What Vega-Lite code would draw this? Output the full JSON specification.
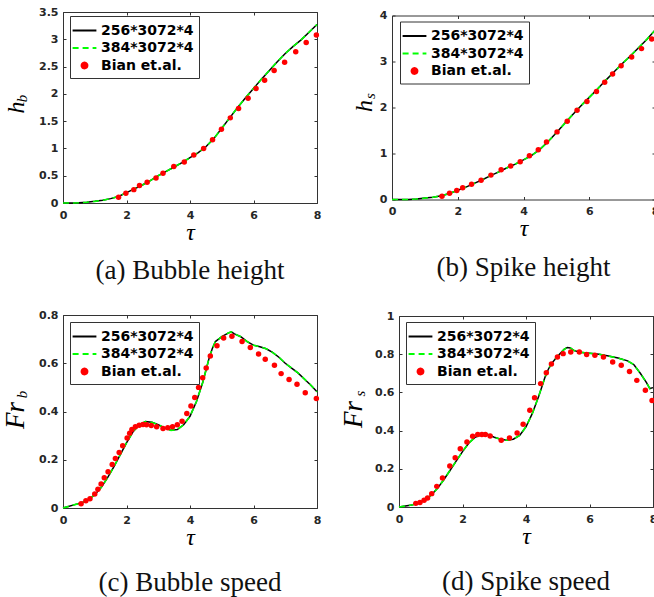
{
  "$schema": "https://vega.github.io/schema/vega-lite/v6.json",
  "padding": {"left": 0, "top": 5, "right": 0, "bottom": 0},
  "background": "#ffffff",
  "spacing": 23,
  "resolve": {"scale": {"color": "independent"}, "legend": {"color": "independent"}},
  "datasets": {
    "a_line": [
      {"t":0,"k":0,"g":0},{"t":0.25,"k":0,"g":0},{"t":0.5,"k":0.005,"g":0.005},{"t":0.75,"k":0.015,"g":0.015},{"t":1,"k":0.03,"g":0.03},{"t":1.25,"k":0.05,"g":0.05},{"t":1.5,"k":0.08,"g":0.08},{"t":1.75,"k":0.12,"g":0.12},{"t":2,"k":0.19,"g":0.19},{"t":2.25,"k":0.26,"g":0.26},{"t":2.5,"k":0.33,"g":0.33},{"t":2.75,"k":0.41,"g":0.41},{"t":3,"k":0.5,"g":0.5},{"t":3.25,"k":0.58,"g":0.58},{"t":3.5,"k":0.66,"g":0.66},{"t":3.75,"k":0.74,"g":0.74},{"t":4,"k":0.83,"g":0.83},{"t":4.25,"k":0.92,"g":0.92},{"t":4.5,"k":1.03,"g":1.03},{"t":4.75,"k":1.18,"g":1.18},{"t":5,"k":1.37,"g":1.37},{"t":5.25,"k":1.56,"g":1.56},{"t":5.5,"k":1.75,"g":1.75},{"t":5.75,"k":1.93,"g":1.93},{"t":6,"k":2.1,"g":2.1},{"t":6.25,"k":2.27,"g":2.27},{"t":6.5,"k":2.43,"g":2.43},{"t":6.75,"k":2.59,"g":2.59},{"t":7,"k":2.74,"g":2.74},{"t":7.25,"k":2.87,"g":2.87},{"t":7.5,"k":2.99,"g":2.99},{"t":7.75,"k":3.13,"g":3.13},{"t":8,"k":3.27,"g":3.27}
    ],
    "a_dot": [
      {"t":1.75,"v":0.104},{"t":1.98,"v":0.18},{"t":2.23,"v":0.245},{"t":2.41,"v":0.32},{"t":2.65,"v":0.38},{"t":2.93,"v":0.46},{"t":3.15,"v":0.545},{"t":3.49,"v":0.667},{"t":3.82,"v":0.753},{"t":4.12,"v":0.88},{"t":4.43,"v":1.0},{"t":4.71,"v":1.16},{"t":4.99,"v":1.35},{"t":5.27,"v":1.56},{"t":5.53,"v":1.73},{"t":5.83,"v":1.92},{"t":6.08,"v":2.1},{"t":6.35,"v":2.25},{"t":6.65,"v":2.43},{"t":6.98,"v":2.58},{"t":7.33,"v":2.77},{"t":7.66,"v":2.94},{"t":7.98,"v":3.08}
    ],
    "b_line": [
      {"t":0,"k":0,"g":0},{"t":0.5,"k":0,"g":0},{"t":0.75,"k":0.01,"g":0.01},{"t":1,"k":0.03,"g":0.03},{"t":1.25,"k":0.05,"g":0.05},{"t":1.5,"k":0.08,"g":0.08},{"t":1.75,"k":0.13,"g":0.13},{"t":2,"k":0.2,"g":0.2},{"t":2.25,"k":0.27,"g":0.27},{"t":2.5,"k":0.35,"g":0.35},{"t":2.75,"k":0.43,"g":0.43},{"t":3,"k":0.52,"g":0.52},{"t":3.25,"k":0.6,"g":0.6},{"t":3.5,"k":0.69,"g":0.69},{"t":3.75,"k":0.77,"g":0.77},{"t":4,"k":0.86,"g":0.86},{"t":4.25,"k":0.96,"g":0.96},{"t":4.5,"k":1.09,"g":1.09},{"t":4.75,"k":1.26,"g":1.26},{"t":5,"k":1.45,"g":1.45},{"t":5.25,"k":1.65,"g":1.65},{"t":5.5,"k":1.85,"g":1.85},{"t":5.75,"k":2.04,"g":2.04},{"t":6,"k":2.22,"g":2.22},{"t":6.25,"k":2.4,"g":2.4},{"t":6.5,"k":2.59,"g":2.59},{"t":6.75,"k":2.77,"g":2.77},{"t":7,"k":2.95,"g":2.95},{"t":7.25,"k":3.12,"g":3.12},{"t":7.5,"k":3.3,"g":3.3},{"t":7.75,"k":3.48,"g":3.48},{"t":8,"k":3.68,"g":3.68}
    ],
    "b_dot": [
      {"t":1.52,"v":0.072},{"t":1.75,"v":0.138},{"t":1.97,"v":0.196},{"t":2.15,"v":0.254},{"t":2.42,"v":0.333},{"t":2.71,"v":0.42},{"t":3.01,"v":0.53},{"t":3.32,"v":0.645},{"t":3.61,"v":0.73},{"t":3.9,"v":0.82},{"t":4.18,"v":0.95},{"t":4.45,"v":1.08},{"t":4.7,"v":1.25},{"t":5.02,"v":1.47},{"t":5.33,"v":1.7},{"t":5.63,"v":1.94},{"t":5.93,"v":2.13},{"t":6.22,"v":2.35},{"t":6.47,"v":2.55},{"t":6.71,"v":2.73},{"t":6.97,"v":2.91},{"t":7.29,"v":3.1},{"t":7.59,"v":3.28},{"t":7.9,"v":3.49}
    ],
    "c_line": [
      {"t":0,"k":0,"g":0},{"t":0.4,"k":0.015,"g":0.015},{"t":0.6,"k":0.022,"g":0.022},{"t":0.8,"k":0.035,"g":0.035},{"t":1,"k":0.055,"g":0.055},{"t":1.2,"k":0.085,"g":0.085},{"t":1.4,"k":0.125,"g":0.125},{"t":1.6,"k":0.17,"g":0.17},{"t":1.8,"k":0.22,"g":0.22},{"t":2,"k":0.27,"g":0.27},{"t":2.2,"k":0.315,"g":0.315},{"t":2.4,"k":0.345,"g":0.345},{"t":2.6,"k":0.358,"g":0.358},{"t":2.8,"k":0.355,"g":0.355},{"t":3,"k":0.345,"g":0.345},{"t":3.2,"k":0.332,"g":0.332},{"t":3.4,"k":0.322,"g":0.322},{"t":3.6,"k":0.325,"g":0.325},{"t":3.8,"k":0.345,"g":0.345},{"t":4,"k":0.38,"g":0.38},{"t":4.2,"k":0.44,"g":0.44},{"t":4.4,"k":0.52,"g":0.52},{"t":4.5,"k":0.57,"g":0.57},{"t":4.6,"k":0.62,"g":0.62},{"t":4.7,"k":0.66,"g":0.66},{"t":4.8,"k":0.69,"g":0.69},{"t":5,"k":0.71,"g":0.71},{"t":5.2,"k":0.725,"g":0.725},{"t":5.3,"k":0.73,"g":0.73},{"t":5.4,"k":0.722,"g":0.722},{"t":5.6,"k":0.71,"g":0.71},{"t":5.8,"k":0.69,"g":0.69},{"t":6,"k":0.675,"g":0.675},{"t":6.2,"k":0.668,"g":0.668},{"t":6.4,"k":0.66,"g":0.66},{"t":6.6,"k":0.645,"g":0.645},{"t":6.8,"k":0.625,"g":0.625},{"t":7,"k":0.6,"g":0.6},{"t":7.2,"k":0.58,"g":0.58},{"t":7.4,"k":0.56,"g":0.56},{"t":7.6,"k":0.535,"g":0.535},{"t":7.8,"k":0.51,"g":0.51},{"t":8,"k":0.482,"g":0.482}
    ],
    "c_dot": [
      {"t":0.57,"v":0.018},{"t":0.72,"v":0.03},{"t":0.85,"v":0.038},{"t":1.0,"v":0.058},{"t":1.1,"v":0.078},{"t":1.2,"v":0.1},{"t":1.3,"v":0.125},{"t":1.42,"v":0.15},{"t":1.55,"v":0.18},{"t":1.65,"v":0.205},{"t":1.77,"v":0.23},{"t":1.88,"v":0.258},{"t":2.02,"v":0.29},{"t":2.1,"v":0.31},{"t":2.17,"v":0.325},{"t":2.28,"v":0.337},{"t":2.4,"v":0.343},{"t":2.52,"v":0.346},{"t":2.63,"v":0.345},{"t":2.78,"v":0.342},{"t":2.95,"v":0.337},{"t":3.15,"v":0.33},{"t":3.3,"v":0.333},{"t":3.45,"v":0.337},{"t":3.6,"v":0.345},{"t":3.75,"v":0.36},{"t":3.9,"v":0.392},{"t":4.03,"v":0.423},{"t":4.15,"v":0.458},{"t":4.27,"v":0.5},{"t":4.4,"v":0.54},{"t":4.51,"v":0.58},{"t":4.64,"v":0.63},{"t":4.85,"v":0.673},{"t":5.06,"v":0.705},{"t":5.32,"v":0.712},{"t":5.64,"v":0.69},{"t":5.9,"v":0.665},{"t":6.16,"v":0.638},{"t":6.37,"v":0.617},{"t":6.66,"v":0.592},{"t":6.87,"v":0.557},{"t":7.12,"v":0.533},{"t":7.37,"v":0.513},{"t":7.63,"v":0.478},{"t":7.98,"v":0.454}
    ],
    "d_line": [
      {"t":0,"k":0,"g":0},{"t":0.4,"k":0.01,"g":0.01},{"t":0.6,"k":0.02,"g":0.02},{"t":0.8,"k":0.035,"g":0.035},{"t":1,"k":0.06,"g":0.06},{"t":1.2,"k":0.095,"g":0.095},{"t":1.4,"k":0.14,"g":0.14},{"t":1.6,"k":0.19,"g":0.19},{"t":1.8,"k":0.24,"g":0.24},{"t":2,"k":0.29,"g":0.29},{"t":2.2,"k":0.335,"g":0.335},{"t":2.4,"k":0.365,"g":0.365},{"t":2.6,"k":0.38,"g":0.38},{"t":2.7,"k":0.385,"g":0.385},{"t":2.8,"k":0.38,"g":0.38},{"t":3,"k":0.365,"g":0.365},{"t":3.2,"k":0.355,"g":0.355},{"t":3.4,"k":0.35,"g":0.35},{"t":3.6,"k":0.355,"g":0.355},{"t":3.8,"k":0.375,"g":0.375},{"t":4,"k":0.42,"g":0.42},{"t":4.2,"k":0.49,"g":0.49},{"t":4.4,"k":0.58,"g":0.58},{"t":4.5,"k":0.63,"g":0.63},{"t":4.6,"k":0.68,"g":0.68},{"t":4.7,"k":0.72,"g":0.72},{"t":4.8,"k":0.75,"g":0.75},{"t":5,"k":0.79,"g":0.79},{"t":5.2,"k":0.825,"g":0.825},{"t":5.3,"k":0.835,"g":0.835},{"t":5.4,"k":0.833,"g":0.833},{"t":5.5,"k":0.82,"g":0.82},{"t":5.7,"k":0.81,"g":0.81},{"t":6,"k":0.805,"g":0.805},{"t":6.3,"k":0.8,"g":0.8},{"t":6.6,"k":0.79,"g":0.79},{"t":6.9,"k":0.78,"g":0.78},{"t":7.2,"k":0.765,"g":0.765},{"t":7.4,"k":0.745,"g":0.745},{"t":7.6,"k":0.7,"g":0.7},{"t":7.8,"k":0.65,"g":0.65},{"t":7.9,"k":0.62,"g":0.62},{"t":8,"k":0.625,"g":0.625}
    ],
    "d_dot": [
      {"t":0.53,"v":0.019},{"t":0.66,"v":0.024},{"t":0.79,"v":0.035},{"t":0.9,"v":0.047},{"t":1.03,"v":0.07},{"t":1.19,"v":0.108},{"t":1.37,"v":0.152},{"t":1.6,"v":0.215},{"t":1.77,"v":0.258},{"t":1.93,"v":0.305},{"t":2.14,"v":0.34},{"t":2.32,"v":0.37},{"t":2.48,"v":0.379},{"t":2.61,"v":0.38},{"t":2.72,"v":0.379},{"t":2.87,"v":0.372},{"t":3.22,"v":0.35},{"t":3.48,"v":0.361},{"t":3.72,"v":0.387},{"t":3.91,"v":0.433},{"t":4.12,"v":0.506},{"t":4.27,"v":0.572},{"t":4.46,"v":0.646},{"t":4.64,"v":0.703},{"t":4.8,"v":0.749},{"t":4.99,"v":0.785},{"t":5.17,"v":0.803},{"t":5.41,"v":0.811},{"t":5.68,"v":0.811},{"t":5.91,"v":0.799},{"t":6.17,"v":0.794},{"t":6.44,"v":0.785},{"t":6.73,"v":0.759},{"t":7.0,"v":0.742},{"t":7.26,"v":0.71},{"t":7.49,"v":0.663},{"t":7.76,"v":0.611},{"t":7.97,"v":0.558}
    ]
  },
  "vconcat": [
    {
      "hconcat": [
        {
          "width": 254, "height": 191,
          "title": {"text": "(a) Bubble height"},
          "layer": [
            {"data": {"name": "a_line"}, "mark": {"type": "line", "strokeWidth": 1.5},
             "encoding": {
               "x": {"field": "t", "type": "quantitative", "scale": {"domain": [0, 8], "nice": false}, "axis": {"values": [0,2,4,6,8], "format": "~g", "ticks": false, "title": "τ", "titleY": 36, "titleBaseline": "alphabetic"}},
               "y": {"field": "k", "type": "quantitative", "scale": {"domain": [0, 3.5], "nice": false}, "axis": {"values": [0,0.5,1,1.5,2,2.5,3,3.5], "format": "~g", "ticks": false, "title": "h", "titleX": -40, "titleY": 95, "titleAngle": 270, "titleAlign": "center", "titleBaseline": "alphabetic"}},
               "color": {"datum": "256*3072*4", "type": "nominal", "scale": {"domain": ["256*3072*4","384*3072*4","Bian et.al."], "range": ["#000000","#00ff00","#ff0000"]},
                 "legend": {"title": null, "orient": "none", "legendX": 7, "legendY": 4, "symbolSize": 289, "labelOffset": 7, "padding": 5, "rowPadding": 0.5, "strokeColor": "#333333", "fillColor": "#ffffff", "labelFont": "DejaVu Sans", "labelFontWeight": "bold", "labelFontSize": 14, "labelColor": "#000000", "symbolStrokeWidth": 1.8,
                   "encode": {"symbols": {"update": {
                     "shape": {"signal": "datum.value === 'Bian et.al.' ? 'circle' : 'M-1.4,0H1.4'"},
                     "size": {"signal": "datum.value === 'Bian et.al.' ? 36 : 289"},
                     "strokeDash": {"signal": "datum.value === '384*3072*4' ? [6,4] : [1,0]"},
                     "fill": {"signal": "datum.value === 'Bian et.al.' ? '#ff0000' : 'transparent'"},
                     "stroke": {"signal": "datum.value === '256*3072*4' ? '#000000' : (datum.value === '384*3072*4' ? '#00ff00' : 'transparent')"},
                     "strokeWidth": {"value": 1.8},
                     "opacity": {"value": 1}}}}}}
             }},
            {"data": {"name": "a_line"}, "mark": {"type": "line", "strokeWidth": 1.6, "strokeDash": [6, 4]},
             "encoding": {
               "x": {"field": "t", "type": "quantitative", "scale": {"domain": [0, 8], "nice": false}, "axis": {"orient": "top", "values": [0,2,4,6,8], "labels": false, "tickSize": -3, "title": null}},
               "y": {"field": "g", "type": "quantitative", "scale": {"domain": [0, 3.5], "nice": false}, "axis": {"orient": "right", "values": [0,0.5,1,1.5,2,2.5,3,3.5], "labels": false, "tickSize": -3, "title": null}},
               "color": {"datum": "384*3072*4", "type": "nominal"}
             }},
            {"data": {"name": "a_dot"}, "mark": {"type": "point", "filled": true, "shape": "circle", "size": 30, "opacity": 1},
             "encoding": {
               "x": {"field": "t", "type": "quantitative", "scale": {"domain": [0, 8], "nice": false}, "axis": {"orient": "bottom", "values": [0,2,4,6,8], "labels": false, "tickSize": -3, "title": null}},
               "y": {"field": "v", "type": "quantitative", "scale": {"domain": [0, 3.5], "nice": false}, "axis": {"orient": "left", "values": [0,0.5,1,1.5,2,2.5,3,3.5], "labels": false, "tickSize": -3, "title": "b", "titleFontSize": 15, "titleX": -37, "titleY": 86, "titleAngle": 270, "titleAlign": "center", "titleBaseline": "alphabetic"}},
               "color": {"datum": "Bian et.al.", "type": "nominal"}
             }}
          ],
          "resolve": {"axis": {"x": "independent", "y": "independent"}}
        },
        {
          "width": 263, "height": 184,
          "title": {"text": "(b) Spike height"},
          "layer": [
            {"data": {"name": "b_line"}, "mark": {"type": "line", "strokeWidth": 1.5},
             "encoding": {
               "x": {"field": "t", "type": "quantitative", "scale": {"domain": [0, 8], "nice": false}, "axis": {"values": [0,2,4,6,8], "format": "~g", "ticks": false, "title": "τ", "titleY": 36, "titleBaseline": "alphabetic"}},
               "y": {"field": "k", "type": "quantitative", "scale": {"domain": [0, 4], "nice": false}, "axis": {"values": [0,1,2,3,4], "format": "~g", "ticks": false, "title": "h", "titleX": -21, "titleY": 90, "titleAngle": 270, "titleAlign": "center", "titleBaseline": "alphabetic"}},
               "color": {"datum": "256*3072*4", "type": "nominal", "scale": {"domain": ["256*3072*4","384*3072*4","Bian et.al."], "range": ["#000000","#00ff00","#ff0000"]},
                 "legend": {"title": null, "orient": "none", "legendX": 8, "legendY": 6, "symbolSize": 289, "labelOffset": 7, "padding": 5, "rowPadding": 0.5, "strokeColor": "#333333", "fillColor": "#ffffff", "labelFont": "DejaVu Sans", "labelFontWeight": "bold", "labelFontSize": 14, "labelColor": "#000000", "symbolStrokeWidth": 1.8,
                   "encode": {"symbols": {"update": {
                     "shape": {"signal": "datum.value === 'Bian et.al.' ? 'circle' : 'M-1.4,0H1.4'"},
                     "size": {"signal": "datum.value === 'Bian et.al.' ? 36 : 289"},
                     "strokeDash": {"signal": "datum.value === '384*3072*4' ? [6,4] : [1,0]"},
                     "fill": {"signal": "datum.value === 'Bian et.al.' ? '#ff0000' : 'transparent'"},
                     "stroke": {"signal": "datum.value === '256*3072*4' ? '#000000' : (datum.value === '384*3072*4' ? '#00ff00' : 'transparent')"},
                     "strokeWidth": {"value": 1.8},
                     "opacity": {"value": 1}}}}}}
             }},
            {"data": {"name": "b_line"}, "mark": {"type": "line", "strokeWidth": 1.6, "strokeDash": [6, 4]},
             "encoding": {
               "x": {"field": "t", "type": "quantitative", "scale": {"domain": [0, 8], "nice": false}, "axis": {"orient": "top", "values": [0,2,4,6,8], "labels": false, "tickSize": -3, "title": null}},
               "y": {"field": "g", "type": "quantitative", "scale": {"domain": [0, 4], "nice": false}, "axis": {"orient": "right", "values": [0,1,2,3,4], "labels": false, "tickSize": -3, "title": null}},
               "color": {"datum": "384*3072*4", "type": "nominal"}
             }},
            {"data": {"name": "b_dot"}, "mark": {"type": "point", "filled": true, "shape": "circle", "size": 30, "opacity": 1},
             "encoding": {
               "x": {"field": "t", "type": "quantitative", "scale": {"domain": [0, 8], "nice": false}, "axis": {"orient": "bottom", "values": [0,2,4,6,8], "labels": false, "tickSize": -3, "title": null}},
               "y": {"field": "v", "type": "quantitative", "scale": {"domain": [0, 4], "nice": false}, "axis": {"orient": "left", "values": [0,1,2,3,4], "labels": false, "tickSize": -3, "title": "s", "titleFontSize": 15, "titleX": -18, "titleY": 80, "titleAngle": 270, "titleAlign": "center", "titleBaseline": "alphabetic"}},
               "color": {"datum": "Bian et.al.", "type": "nominal"}
             }}
          ],
          "resolve": {"axis": {"x": "independent", "y": "independent"}}
        }
      ],
      "bounds": "flush",
      "spacing": 75,
      "center": true,
      "resolve": {"scale": {"color": "independent"}, "legend": {"color": "independent"}}
    },
    {
      "hconcat": [
        {
          "width": 254, "height": 193,
          "title": {"text": "(c) Bubble speed", "offset": 21},
          "layer": [
            {"data": {"name": "c_line"}, "mark": {"type": "line", "strokeWidth": 1.5},
             "encoding": {
               "x": {"field": "t", "type": "quantitative", "scale": {"domain": [0, 8], "nice": false}, "axis": {"values": [0,2,4,6,8], "format": "~g", "ticks": false, "title": "τ", "titleY": 36, "titleBaseline": "alphabetic"}},
               "y": {"field": "k", "type": "quantitative", "scale": {"domain": [0, 0.8], "nice": false}, "axis": {"values": [0,0.2,0.4,0.6,0.8], "format": "~g", "ticks": false, "title": "Fr", "titleFontSize": 27, "titleX": -40, "titleY": 100, "titleAngle": 270, "titleAlign": "center", "titleBaseline": "alphabetic"}},
               "color": {"datum": "256*3072*4", "type": "nominal", "scale": {"domain": ["256*3072*4","384*3072*4","Bian et.al."], "range": ["#000000","#00ff00","#ff0000"]},
                 "legend": {"title": null, "orient": "none", "legendX": 7, "legendY": 7, "symbolSize": 289, "labelOffset": 7, "padding": 5, "rowPadding": 0.5, "strokeColor": "#333333", "fillColor": "#ffffff", "labelFont": "DejaVu Sans", "labelFontWeight": "bold", "labelFontSize": 14, "labelColor": "#000000", "symbolStrokeWidth": 1.8,
                   "encode": {"symbols": {"update": {
                     "shape": {"signal": "datum.value === 'Bian et.al.' ? 'circle' : 'M-1.4,0H1.4'"},
                     "size": {"signal": "datum.value === 'Bian et.al.' ? 36 : 289"},
                     "strokeDash": {"signal": "datum.value === '384*3072*4' ? [6,4] : [1,0]"},
                     "fill": {"signal": "datum.value === 'Bian et.al.' ? '#ff0000' : 'transparent'"},
                     "stroke": {"signal": "datum.value === '256*3072*4' ? '#000000' : (datum.value === '384*3072*4' ? '#00ff00' : 'transparent')"},
                     "strokeWidth": {"value": 1.8},
                     "opacity": {"value": 1}}}}}}
             }},
            {"data": {"name": "c_line"}, "mark": {"type": "line", "strokeWidth": 1.6, "strokeDash": [6, 4]},
             "encoding": {
               "x": {"field": "t", "type": "quantitative", "scale": {"domain": [0, 8], "nice": false}, "axis": {"orient": "top", "values": [0,2,4,6,8], "labels": false, "tickSize": -3, "title": null}},
               "y": {"field": "g", "type": "quantitative", "scale": {"domain": [0, 0.8], "nice": false}, "axis": {"orient": "right", "values": [0,0.2,0.4,0.6,0.8], "labels": false, "tickSize": -3, "title": null}},
               "color": {"datum": "384*3072*4", "type": "nominal"}
             }},
            {"data": {"name": "c_dot"}, "mark": {"type": "point", "filled": true, "shape": "circle", "size": 30, "opacity": 1},
             "encoding": {
               "x": {"field": "t", "type": "quantitative", "scale": {"domain": [0, 8], "nice": false}, "axis": {"orient": "bottom", "values": [0,2,4,6,8], "labels": false, "tickSize": -3, "title": null}},
               "y": {"field": "v", "type": "quantitative", "scale": {"domain": [0, 0.8], "nice": false}, "axis": {"orient": "left", "values": [0,0.2,0.4,0.6,0.8], "labels": false, "tickSize": -3, "title": "b", "titleFontSize": 15, "titleX": -37, "titleY": 79, "titleAngle": 270, "titleAlign": "center", "titleBaseline": "alphabetic"}},
               "color": {"datum": "Bian et.al.", "type": "nominal"}
             }}
          ],
          "resolve": {"axis": {"x": "independent", "y": "independent"}}
        },
        {
          "width": 254, "height": 191,
          "title": {"text": "(d) Spike speed", "offset": 21},
          "layer": [
            {"data": {"name": "d_line"}, "mark": {"type": "line", "strokeWidth": 1.5},
             "encoding": {
               "x": {"field": "t", "type": "quantitative", "scale": {"domain": [0, 8], "nice": false}, "axis": {"values": [0,2,4,6,8], "format": "~g", "ticks": false, "title": "τ", "titleY": 36, "titleBaseline": "alphabetic"}},
               "y": {"field": "k", "type": "quantitative", "scale": {"domain": [0, 1], "nice": false}, "axis": {"values": [0,0.2,0.4,0.6,0.8,1], "format": "~g", "ticks": false, "title": "Fr", "titleFontSize": 27, "titleX": -38, "titleY": 98, "titleAngle": 270, "titleAlign": "center", "titleBaseline": "alphabetic"}},
               "color": {"datum": "256*3072*4", "type": "nominal", "scale": {"domain": ["256*3072*4","384*3072*4","Bian et.al."], "range": ["#000000","#00ff00","#ff0000"]},
                 "legend": {"title": null, "orient": "none", "legendX": 7, "legendY": 6, "symbolSize": 289, "labelOffset": 7, "padding": 5, "rowPadding": 0.5, "strokeColor": "#333333", "fillColor": "#ffffff", "labelFont": "DejaVu Sans", "labelFontWeight": "bold", "labelFontSize": 14, "labelColor": "#000000", "symbolStrokeWidth": 1.8,
                   "encode": {"symbols": {"update": {
                     "shape": {"signal": "datum.value === 'Bian et.al.' ? 'circle' : 'M-1.4,0H1.4'"},
                     "size": {"signal": "datum.value === 'Bian et.al.' ? 36 : 289"},
                     "strokeDash": {"signal": "datum.value === '384*3072*4' ? [6,4] : [1,0]"},
                     "fill": {"signal": "datum.value === 'Bian et.al.' ? '#ff0000' : 'transparent'"},
                     "stroke": {"signal": "datum.value === '256*3072*4' ? '#000000' : (datum.value === '384*3072*4' ? '#00ff00' : 'transparent')"},
                     "strokeWidth": {"value": 1.8},
                     "opacity": {"value": 1}}}}}}
             }},
            {"data": {"name": "d_line"}, "mark": {"type": "line", "strokeWidth": 1.6, "strokeDash": [6, 4]},
             "encoding": {
               "x": {"field": "t", "type": "quantitative", "scale": {"domain": [0, 8], "nice": false}, "axis": {"orient": "top", "values": [0,2,4,6,8], "labels": false, "tickSize": -3, "title": null}},
               "y": {"field": "g", "type": "quantitative", "scale": {"domain": [0, 1], "nice": false}, "axis": {"orient": "right", "values": [0,0.2,0.4,0.6,0.8,1], "labels": false, "tickSize": -3, "title": null}},
               "color": {"datum": "384*3072*4", "type": "nominal"}
             }},
            {"data": {"name": "d_dot"}, "mark": {"type": "point", "filled": true, "shape": "circle", "size": 30, "opacity": 1},
             "encoding": {
               "x": {"field": "t", "type": "quantitative", "scale": {"domain": [0, 8], "nice": false}, "axis": {"orient": "bottom", "values": [0,2,4,6,8], "labels": false, "tickSize": -3, "title": null}},
               "y": {"field": "v", "type": "quantitative", "scale": {"domain": [0, 1], "nice": false}, "axis": {"orient": "left", "values": [0,0.2,0.4,0.6,0.8,1], "labels": false, "tickSize": -3, "title": "s", "titleFontSize": 15, "titleX": -35, "titleY": 77, "titleAngle": 270, "titleAlign": "center", "titleBaseline": "alphabetic"}},
               "color": {"datum": "Bian et.al.", "type": "nominal"}
             }}
          ],
          "resolve": {"axis": {"x": "independent", "y": "independent"}}
        }
      ],
      "bounds": "flush",
      "spacing": 82,
      "center": true,
      "resolve": {"scale": {"color": "independent"}, "legend": {"color": "independent"}}
    }
  ],
  "config": {
    "view": {"stroke": "#333333", "strokeWidth": 1},
    "axis": {"grid": false, "domain": false, "labelOverlap": false, "labelFont": "DejaVu Sans", "labelFontWeight": "bold", "labelFontSize": 11, "labelColor": "#262626", "tickColor": "#333333", "tickWidth": 1, "titleFont": "Liberation Serif", "titleFontStyle": "italic", "titleFontWeight": "normal", "titleFontSize": 24, "titleColor": "#000000"},
    "axisX": {"labelPadding": 6, "labelFlush": false},
    "axisY": {"labelPadding": 5},
    "title": {"font": "Liberation Serif", "fontSize": 27, "fontWeight": "normal", "color": "#111111", "orient": "bottom", "anchor": "middle", "offset": 14}
  }
}
